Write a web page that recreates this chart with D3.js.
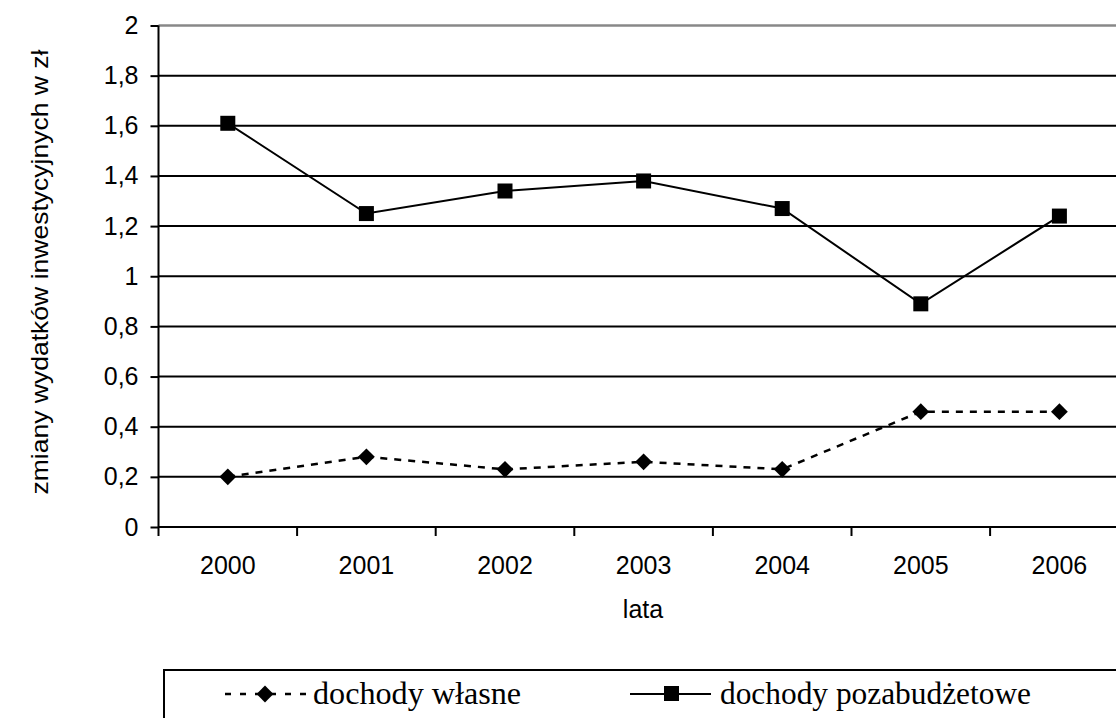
<!DOCTYPE html>
<html>
<head>
<meta charset="utf-8">
<script src="https://cdn.jsdelivr.net/npm/d3@7"></script>
<style>
  body { margin: 0; background: #fff; }
  svg { display: block; }
</style>
</head>
<body>
<script>
var years = ["2000", "2001", "2002", "2003", "2004", "2005", "2006"];
var wlasne = [0.20, 0.28, 0.23, 0.26, 0.23, 0.46, 0.46];
var pozabudzetowe = [1.61, 1.25, 1.34, 1.38, 1.27, 0.89, 1.24];
var yTicks = [0, 0.2, 0.4, 0.6, 0.8, 1, 1.2, 1.4, 1.6, 1.8, 2];
var seriesNames = ["dochody własne", "dochody pozabudżetowe"];

var width = 1116;
var height = 718;

var svg = d3.select("body").append("svg")
  .attr("width", width)
  .attr("height", height);

// plot goes a bit past the right edge, like in the picture
var x = d3.scaleBand().domain(years).range([158.5, 1128.7]);
var y = d3.scaleLinear().domain([0, 2]).range([527, 25.5]);

var fmt = function(d) { return String(d).replace(".", ","); };

// gridlines
svg.append("g").selectAll("line").data(yTicks.filter(function(d){ return d > 0 && d < 2; }))
  .enter().append("line")
  .attr("x1", 158.5).attr("x2", 1130)
  .attr("y1", function(d){ return y(d); }).attr("y2", function(d){ return y(d); })
  .attr("stroke", "#000").attr("stroke-width", 2);

// top border (grey)
svg.append("line")
  .attr("x1", 158.5).attr("x2", 1130)
  .attr("y1", y(2)).attr("y2", y(2))
  .attr("stroke", "#888").attr("stroke-width", 2.5);

// y axis
var yAxis = d3.axisLeft(y).tickValues(yTicks).tickSize(8).tickPadding(12).tickFormat(fmt);
var gy = svg.append("g").attr("transform", "translate(158.5,0)").call(yAxis);
gy.select(".domain").attr("stroke-width", 2).attr("d", "M0," + y(0) + "V" + y(2));
gy.selectAll(".tick line").attr("stroke-width", 2);
gy.selectAll(".tick text")
  .attr("font-family", "Liberation Sans, Arial, sans-serif")
  .attr("font-size", 25).attr("fill", "#000");

// x axis: ticks on the band edges, labels in the middle
var gx = svg.append("g").attr("transform", "translate(0," + y(0) + ")");
gx.append("line")
  .attr("x1", 158.5).attr("x2", 1130)
  .attr("stroke", "#000").attr("stroke-width", 2);
gx.selectAll(".xt").data(years).enter().append("line")
  .attr("class", "xt")
  .attr("x1", function(d){ return x(d); }).attr("x2", function(d){ return x(d); })
  .attr("y1", 0).attr("y2", 9)
  .attr("stroke", "#000").attr("stroke-width", 2);
gx.selectAll("text").data(years).enter().append("text")
  .attr("x", function(d){ return x(d) + x.bandwidth() / 2; })
  .attr("y", 47)
  .attr("text-anchor", "middle")
  .attr("font-family", "Liberation Sans, Arial, sans-serif")
  .attr("font-size", 25)
  .text(function(d){ return d; });

// axis titles
svg.append("text")
  .attr("x", 643).attr("y", 618)
  .attr("text-anchor", "middle")
  .attr("font-family", "Liberation Sans, Arial, sans-serif")
  .attr("font-size", 25)
  .text("lata");

svg.append("text")
  .attr("transform", "translate(48,272) rotate(-90)")
  .attr("text-anchor", "middle")
  .attr("font-family", "Liberation Sans, Arial, sans-serif")
  .attr("font-size", 24)
  .attr("textLength", 445)
  .attr("lengthAdjust", "spacingAndGlyphs")
  .text("zmiany wydatków inwestycyjnych w zł");

var cx = function(d, i){ return x(years[i]) + x.bandwidth() / 2; };
var line = d3.line().x(cx).y(function(d){ return y(d); });

// dochody własne - dashed with diamonds
svg.append("path").datum(wlasne)
  .attr("d", line)
  .attr("fill", "none").attr("stroke", "#000")
  .attr("stroke-width", 2.5).attr("stroke-dasharray", "7,7");

var diamond = d3.symbol().type(d3.symbolDiamond2).size(180);
svg.append("g").selectAll("path").data(wlasne).enter().append("path")
  .attr("d", diamond)
  .attr("transform", function(d, i){ return "translate(" + cx(d, i) + "," + y(d) + ")"; })
  .attr("fill", "#000");

// dochody pozabudżetowe - solid with squares
svg.append("path").datum(pozabudzetowe)
  .attr("d", line)
  .attr("fill", "none").attr("stroke", "#000").attr("stroke-width", 2);

svg.append("g").selectAll("rect").data(pozabudzetowe).enter().append("rect")
  .attr("x", function(d, i){ return cx(d, i) - 7.5; })
  .attr("y", function(d){ return y(d) - 7.5; })
  .attr("width", 15).attr("height", 15)
  .attr("fill", "#000");

// legend
var lg = svg.append("g");
lg.append("rect")
  .attr("x", 164).attr("y", 670)
  .attr("width", 1000).attr("height", 100)
  .attr("fill", "none").attr("stroke", "#000").attr("stroke-width", 2);

lg.append("line")
  .attr("x1", 225).attr("x2", 308).attr("y1", 694).attr("y2", 694)
  .attr("stroke", "#000").attr("stroke-width", 2.5).attr("stroke-dasharray", "6,9");
lg.append("path")
  .attr("d", diamond)
  .attr("transform", "translate(265,694)");

lg.append("line")
  .attr("x1", 630).attr("x2", 711).attr("y1", 694).attr("y2", 694)
  .attr("stroke", "#000").attr("stroke-width", 2);
lg.append("rect")
  .attr("x", 664).attr("y", 686).attr("width", 15).attr("height", 15);

lg.selectAll("text").data(seriesNames).enter().append("text")
  .attr("x", function(d, i){ return i === 0 ? 313 : 720; })
  .attr("y", 704)
  .attr("font-family", "Liberation Serif, Times New Roman, serif")
  .attr("font-size", 32)
  .attr("textLength", function(d, i){ return i === 0 ? 208 : 311; })
  .attr("lengthAdjust", "spacingAndGlyphs")
  .text(function(d){ return d; });
</script>
</body>
</html>
